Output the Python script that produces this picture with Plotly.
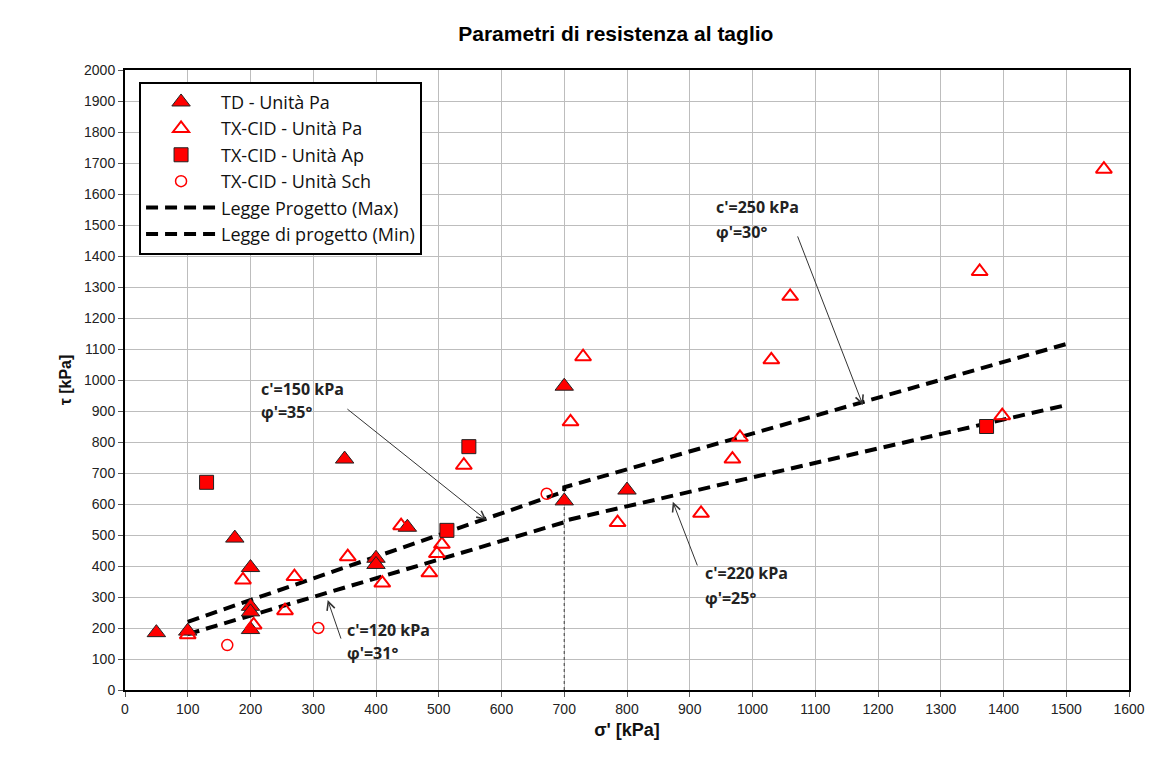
import plotly.graph_objects as go

# ---- data ----
td_pa_x = [50, 100, 175, 200, 200, 200, 200, 350, 400, 400, 450, 700, 700, 800]
td_pa_y = [185, 190, 490, 395, 270, 252, 195, 745, 425, 405, 525, 980, 610, 645]

tx_pa_x = [100, 188, 205, 255, 270, 355, 410, 440, 485, 497, 505, 540, 710, 730,
           785, 918, 968, 980, 1030, 1060, 1362, 1398, 1560]
tx_pa_y = [178, 355, 210, 256, 366, 430, 345, 530, 378, 440, 470, 725, 865, 1075,
           540, 570, 745, 815, 1065, 1270, 1350, 885, 1680]

tx_ap_x = [130, 513, 548, 1373]
tx_ap_y = [670, 515, 785, 850]

tx_sch_x = [163, 308, 672]
tx_sch_y = [145, 200, 633]

law_max_x = [100, 700, 700, 1500]
law_max_y = [220, 640, 654, 1116]
law_min_x = [100, 700, 700, 1500]
law_min_y = [180, 541, 546, 919]

sep_x = [700, 700]
sep_y = [0, 654]

x_ticks = list(range(0, 1601, 100))
y_ticks = list(range(0, 2001, 100))

RED = "#FF0000"
legfont = "Open Sans, Noto Sans, Liberation Sans"
tickfam = "Liberation Sans, Arial"

fig = go.Figure()
fig.add_trace(go.Scatter(x=sep_x, y=sep_y, mode="lines", showlegend=False,
                         line=dict(color="#555555", width=1.2, dash="dot"), hoverinfo="skip"))
fig.add_trace(go.Scatter(x=law_max_x, y=law_max_y, mode="lines", name="Legge Progetto (Max)",
                         legendrank=5, line=dict(color="black", width=4, dash="12px,7px")))
fig.add_trace(go.Scatter(x=law_min_x, y=law_min_y, mode="lines", name="Legge di progetto (Min)",
                         legendrank=6, line=dict(color="black", width=4, dash="12px,7px")))
fig.add_trace(go.Scatter(x=td_pa_x, y=td_pa_y, mode="markers", name="TD - Unità Pa",
                         legendrank=1,
                         marker=dict(symbol="triangle-up", size=16, color=RED,
                                     line=dict(color="#222222", width=1))))
fig.add_trace(go.Scatter(x=tx_pa_x, y=tx_pa_y, mode="markers", name="TX-CID - Unità Pa",
                         legendrank=2,
                         marker=dict(symbol="triangle-up-open", size=14, color=RED,
                                     line=dict(color=RED, width=2))))
fig.add_trace(go.Scatter(x=tx_ap_x, y=tx_ap_y, mode="markers", name="TX-CID - Unità Ap",
                         legendrank=3,
                         marker=dict(symbol="square", size=14, color=RED,
                                     line=dict(color="#222222", width=1))))
fig.add_trace(go.Scatter(x=tx_sch_x, y=tx_sch_y, mode="markers", name="TX-CID - Unità Sch",
                         legendrank=4,
                         marker=dict(symbol="circle-open", size=11, color=RED,
                                     line=dict(color=RED, width=1.5))))

annots = []
labels = [
    (213, 971, 897, "c'=150 kPa", "φ'=35°"),
    (938, 1559, 1477, "c'=250 kPa", "φ'=30°"),
    (921, 377, 297, "c'=220 kPa", "φ'=25°"),
    (351, 194, 119, "c'=120 kPa", "φ'=31°"),
]
for x, y1, y2, t1, t2 in labels:
    for yy, tt in ((y1, t1), (y2, t2)):
        annots.append(dict(x=x, y=yy, xref="x", yref="y", text="<b>" + tt + "</b>",
                           showarrow=False, xanchor="left", yanchor="middle",
                           font=dict(family=legfont, size=16, color="#222222")))
arrows = [
    (352, 910, 576, 548),
    (1071, 1468, 1176, 919),
    (913, 397, 873, 607),
    (345, 161, 323, 290),
]
for ax, ay, x, y in arrows:
    annots.append(dict(x=x, y=y, ax=ax, ay=ay, xref="x", yref="y", axref="x", ayref="y",
                       text="", showarrow=True, arrowhead=5, arrowsize=1.6, arrowwidth=1,
                       arrowcolor="#333333"))

fig.update_layout(
    width=1149, height=742,
    margin=dict(l=117, r=24, t=62, b=60),
    paper_bgcolor="white", plot_bgcolor="white",
    title=dict(text="<b>Parametri di resistenza al taglio</b>", x=0.529, xanchor="center",
               y=0.966, yanchor="middle",
               font=dict(family="Liberation Sans, Arial", size=21, color="black")),
    xaxis=dict(range=[0, 1600], tickvals=x_ticks, ticktext=[str(v) for v in x_ticks],
               showgrid=True, gridcolor="#BDBDBD", gridwidth=1, zeroline=False,
               showline=True, linecolor="black", linewidth=2, mirror=True,
               ticks="outside", ticklen=5, tickcolor="#555",
               tickfont=dict(family=tickfam, size=14, color="#222"),
               title=dict(text="<b>σ' [kPa]</b>", standoff=8,
                          font=dict(family=tickfam, size=18, color="#111"))),
    yaxis=dict(range=[0, 2000], tickvals=y_ticks, ticktext=[str(v) for v in y_ticks],
               showgrid=True, gridcolor="#BDBDBD", gridwidth=1, zeroline=False,
               showline=True, linecolor="black", linewidth=2, mirror=True,
               ticks="outside", ticklen=5, tickcolor="#555",
               tickfont=dict(family=tickfam, size=14, color="#222"),
               title=dict(text="<b>τ [kPa]</b>", standoff=8,
                          font=dict(family=tickfam, size=16, color="#111"))),
    legend=dict(x=0.014, y=0.981, xanchor="left", yanchor="top",
                bgcolor="white", bordercolor="black", borderwidth=2,
                font=dict(family=legfont, size=18, color="#111"),
                itemwidth=70, tracegroupgap=0),
    annotations=annots,
    showlegend=True,
)

fig.write_html("out.html")
